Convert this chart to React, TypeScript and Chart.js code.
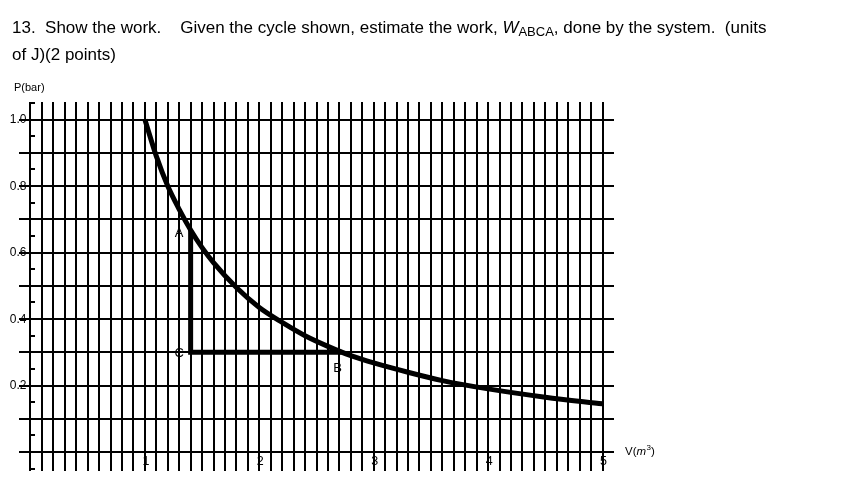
import React, { useEffect, useRef } from 'react';
import { Chart, registerables } from 'chart.js';
Chart.register(...registerables);

// Curve P(V)
const curveV = [1.0, 1.1, 1.2, 1.3, 1.4, 1.5, 1.6, 1.8, 2.0, 2.2, 2.4, 2.6, 2.8, 3.0, 3.3, 3.6, 4.0, 4.5, 5.0];
const curveP = [1.0, 0.89, 0.8, 0.73, 0.668, 0.615, 0.57, 0.495, 0.435, 0.39, 0.35, 0.318, 0.29, 0.268, 0.24, 0.215, 0.19, 0.165, 0.145];

// Path A -> C -> B
const pointNames = ['A', 'C', 'B'];
const pathV = [1.4, 1.4, 2.72];
const pathP = [0.668, 0.3, 0.3];

// Tick labels
const xTickValues = [1, 2, 3, 4, 5];
const xTickLabels = ['1', '2', '3', '4', '5'];
const yTickValues = [0.2, 0.4, 0.6, 0.8, 1.0];
const yTickLabels = ['0.2', '0.4', '0.6', '0.8', '1.0'];
const yMinorTicks = [-0.05, 0.05, 0.15, 0.25, 0.35, 0.45, 0.55, 0.65, 0.75, 0.85, 0.95, 1.05];

const xTitle = 'V(';
const yTitle = 'P(bar)';

const FONT = '"Liberation Sans", Arial, sans-serif';

const labelOffsets: Record<string, [number, number]> = {
  A: [-11.5, 3],
  C: [-11.5, 1],
  B: [-4, 16],
};

const overlay = {
  id: 'overlay',
  afterDraw(chart: any) {
    const ctx = chart.ctx as CanvasRenderingContext2D;
    const xs = chart.scales.x;
    const ys = chart.scales.y;
    const x0 = Math.round(xs.getPixelForValue(0));
    const y0 = ys.getPixelForValue(0);
    ctx.save();
    ctx.strokeStyle = '#000';
    ctx.lineWidth = 2;
    yMinorTicks.forEach((v) => {
      const y = Math.round(ys.getPixelForValue(v));
      ctx.beginPath();
      ctx.moveTo(x0, y);
      ctx.lineTo(x0 + 5, y);
      ctx.stroke();
    });
    ctx.fillStyle = '#000';
    ctx.font = `12px ${FONT}`;
    ctx.textBaseline = 'middle';
    ctx.textAlign = 'right';
    yTickValues.forEach((v, i) => {
      ctx.fillText(yTickLabels[i], x0 - 3.5, ys.getPixelForValue(v) + 0.5);
    });
    ctx.textAlign = 'center';
    ctx.font = `12.5px ${FONT}`;
    xTickValues.forEach((v, i) => {
      ctx.fillText(xTickLabels[i], xs.getPixelForValue(v) + 1, y0 + 9);
    });
    // point labels
    ctx.font = `13px ${FONT}`;
    pointNames.forEach((n, i) => {
      const off = labelOffsets[n] || [0, 0];
      ctx.fillText(n, xs.getPixelForValue(pathV[i]) + off[0], ys.getPixelForValue(pathP[i]) + off[1]);
    });
    // axis titles
    ctx.textAlign = 'left';
    ctx.font = `11px ${FONT}`;
    ctx.fillText(yTitle, x0 - 16, ys.top - 14);
    const xt = xs.right + 11;
    const yt = y0 + 0;
    ctx.font = `11.5px ${FONT}`;
    ctx.fillText(xTitle, xt, yt);
    let w = ctx.measureText(xTitle).width;
    ctx.font = `italic 11.5px ${FONT}`;
    ctx.fillText('m', xt + w, yt);
    w += ctx.measureText('m').width;
    ctx.font = `8px ${FONT}`;
    ctx.fillText('3', xt + w + 0.5, yt - 4);
    w += ctx.measureText('3').width + 0.5;
    ctx.font = `11.5px ${FONT}`;
    ctx.fillText(')', xt + w, yt);
    ctx.restore();
  },
};

export default function App() {
  const ref = useRef<HTMLCanvasElement | null>(null);
  useEffect(() => {
    if (!ref.current) return;
    const gridColor = (lo: number, hi: number) => (c: any) => {
      const v = c.tick ? c.tick.value : NaN;
      return v >= lo - 1e-6 && v <= hi + 1e-6 ? '#000' : 'rgba(0,0,0,0)';
    };
    const chart = new Chart(ref.current, {
      type: 'line',
      data: {
        datasets: [
          {
            data: curveV.map((v, i) => ({ x: v, y: curveP[i] })),
            borderColor: '#000',
            borderWidth: 5,
            pointRadius: 0,
            cubicInterpolationMode: 'monotone',
            fill: false,
          },
          {
            data: pathV.map((v, i) => ({ x: v, y: pathP[i] })),
            borderColor: '#000',
            borderWidth: 5,
            pointRadius: 0,
            tension: 0,
            borderJoinStyle: 'miter',
            fill: false,
          },
        ],
      },
      options: {
        responsive: false,
        animation: false,
        events: [],
        layout: { padding: { left: 19, right: 237, top: 102, bottom: 12 } },
        plugins: { legend: { display: false }, tooltip: { enabled: false }, title: { display: false } },
        scales: {
          x: {
            type: 'linear',
            min: -0.1,
            max: 5.1,
            border: { display: false },
            ticks: { display: false, stepSize: 0.1, includeBounds: false },
            grid: { color: gridColor(0, 5), lineWidth: 2, drawTicks: false },
          },
          y: {
            type: 'linear',
            min: -0.057,
            max: 1.053,
            border: { display: false },
            ticks: { display: false, stepSize: 0.1, includeBounds: false },
            grid: { color: gridColor(0, 1), lineWidth: 2, drawTicks: false },
          },
        },
      },
      plugins: [overlay],
    } as any);
    return () => chart.destroy();
  }, []);

  return (
    <div style={{ position: 'fixed', left: 0, top: 0, width: 851, height: 483, background: '#fff', overflow: 'hidden' }}>
      <canvas ref={ref} width={851} height={483} style={{ position: 'absolute', left: 0, top: 0 }} />
      <div
        style={{
          position: 'absolute',
          left: 12,
          top: 14,
          font: `17px ${FONT}`,
          lineHeight: '27px',
          color: '#000',
          whiteSpace: 'pre',
        }}
      >
        <div>
          {'13.  Show the work.    Given the cycle shown, estimate the work, '}
          <i>W</i>
          <span style={{ fontSize: 13, verticalAlign: '-3px', lineHeight: 0 }}>ABCA</span>
          {', done by the system.  (units'}
        </div>
        <div>{'of J)(2 points)'}</div>
      </div>
    </div>
  );
}
